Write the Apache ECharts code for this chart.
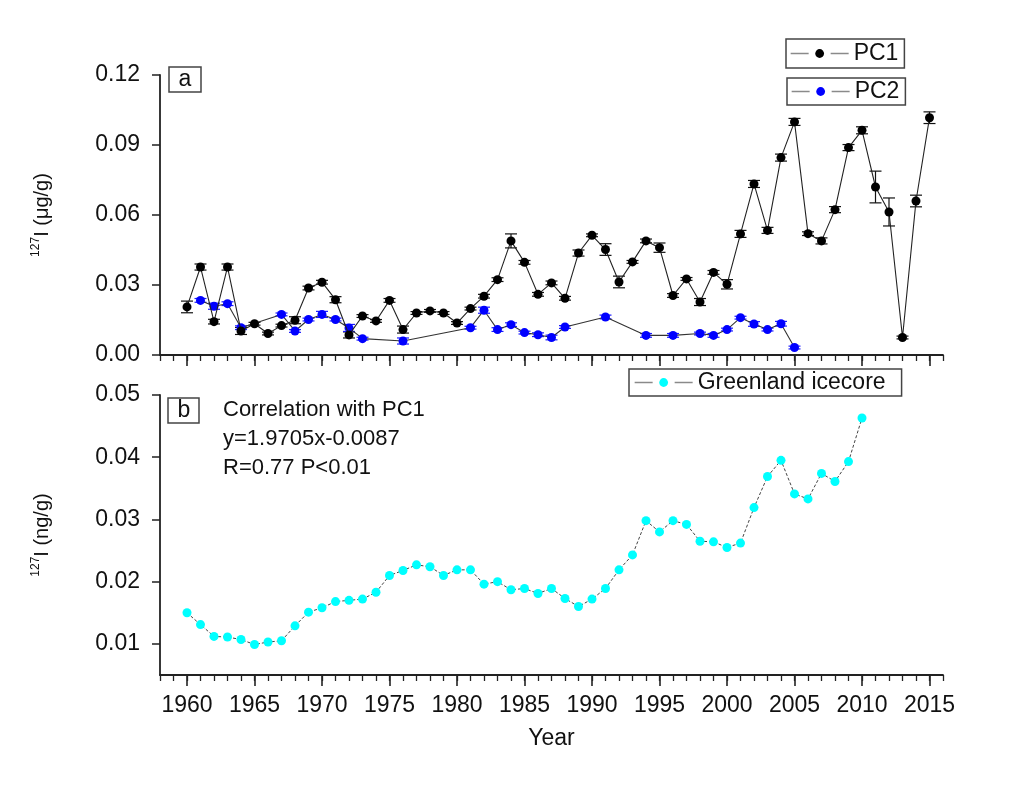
<!DOCTYPE html>
<html>
<head>
<meta charset="utf-8">
<script src="https://cdn.jsdelivr.net/npm/echarts@6/dist/echarts.min.js"></script>
<style>
html,body{margin:0;padding:0;background:#fff;}
#chart{width:1034px;height:792px;}
</style>
</head>
<body>
<div id="chart"></div>
<script>
// ---------- data ----------
const pc1Years = [1960,1961,1962,1963,1964,1965,1966,1967,1968,1969,
  1970,1971,1972,1973,1974,1975,1976,1977,1978,1979,
  1980,1981,1982,1983,1984,1985,1986,1987,1988,1989,
  1990,1991,1992,1993,1994,1995,1996,1997,1998,1999,
  2000,2001,2002,2003,2004,2005,2006,2007,2008,2009,
  2010,2011,2012,2013,2014,2015];
const pc1Values = [0.0206,0.0377,0.0143,0.0377,0.0103,0.0134,0.0092,0.0126,0.0149,0.0287,
  0.0312,0.0237,0.0086,0.0167,0.0146,0.0234,0.0109,0.0180,0.0189,0.0180,
  0.0137,0.0199,0.0252,0.0323,0.0489,0.0397,0.0260,0.0309,0.0243,0.0437,
  0.0513,0.0452,0.0313,0.0399,0.0489,0.0460,0.0255,0.0326,0.0227,0.0354,
  0.0303,0.0519,0.0733,0.0534,0.0846,0.0999,0.0520,0.0489,0.0623,0.0889,
  0.0963,0.0720,0.0613,0.0075,0.0660,0.1017];
const pc1Errors = [0.0025,0.0013,0.0010,0.0013,0.0015,0.0006,0.0006,0.0006,0.0015,0.0008,
  0.0008,0.0013,0.0013,0.0006,0.0006,0.0008,0.0015,0.0006,0.0006,0.0006,
  0.0006,0.0006,0.0008,0.0008,0.0030,0.0008,0.0008,0.0008,0.0008,0.0013,
  0.0006,0.0025,0.0025,0.0006,0.0008,0.0020,0.0008,0.0006,0.0015,0.0008,
  0.0020,0.0015,0.0015,0.0013,0.0015,0.0015,0.0008,0.0013,0.0013,0.0013,
  0.0015,0.0068,0.0060,0.0006,0.0025,0.0025];

const pc2Years = [1961,1962,1963,1964,1967,1968,1969,1970,1971,1972,1973,1976,
  1981,1982,1983,1984,1985,1986,1987,1988,1991,1994,1996,1998,1999,
  2000,2001,2002,2003,2004,2005];
const pc2Values = [0.0234,0.0209,0.0220,0.0117,0.0174,0.0103,0.0152,0.0174,0.0152,0.0116,0.0070,0.0060,
  0.0117,0.0192,0.0109,0.0130,0.0096,0.0087,0.0075,0.0120,0.0163,0.0084,0.0084,0.0092,0.0084,
  0.0109,0.0160,0.0133,0.0109,0.0134,0.0032];
const pc2Errors = [0.0008,0.0013,0.0008,0.0008,0.0006,0.0006,0.0006,0.0013,0.0006,0.0015,0.0006,0.0013,
  0.0006,0.0013,0.0008,0.0008,0.0006,0.0008,0.0010,0.0006,0.0008,0.0008,0.0008,0.0006,0.0008,
  0.0006,0.0006,0.0010,0.0006,0.0010,0.0006];

const iceYears = [1960,1961,1962,1963,1964,1965,1966,1967,1968,1969,
  1970,1971,1972,1973,1974,1975,1976,1977,1978,1979,
  1980,1981,1982,1983,1984,1985,1986,1987,1988,1989,
  1990,1991,1992,1993,1994,1995,1996,1997,1998,1999,
  2000,2001,2002,2003,2004,2005,2006,2007,2008,2009,2010];
const iceValues = [0.0150,0.0131,0.0112,0.0111,0.0107,0.0099,0.0103,0.0105,0.0129,0.0151,
  0.0158,0.0168,0.0170,0.0172,0.0183,0.0210,0.0218,0.0227,0.0224,0.0210,
  0.0219,0.0219,0.0196,0.0200,0.0187,0.0189,0.0181,0.0189,0.0173,0.0160,
  0.0172,0.0189,0.0219,0.0243,0.0298,0.0280,0.0298,0.0292,0.0265,0.0264,
  0.0255,0.0262,0.0319,0.0369,0.0395,0.0341,0.0333,0.0374,0.0361,0.0393,0.0463];

const majorYearTicks = [1960,1965,1970,1975,1980,1985,1990,1995,2000,2005,2010,2015];
const topYTicks = [0, 0.03, 0.06, 0.09, 0.12];
const bottomYTicks = [0.01, 0.02, 0.03, 0.04, 0.05];

// ---------- helpers ----------
const FONT = 'Liberation Sans, Arial, sans-serif';
const pairs = (xs, ys) => xs.map((x, i) => [x, ys[i]]);
const triples = (xs, ys, es) => xs.map((x, i) => [x, ys[i], es[i]]);

function errRenderer(color) {
  return function (params, api) {
    const x = api.value(0), v = api.value(1), e = api.value(2);
    const hi = api.coord([x, v + e]);
    const lo = api.coord([x, v - e]);
    const w = 6;
    const style = { stroke: color, lineWidth: 1.2 };
    return {
      type: 'group',
      children: [
        { type: 'line', shape: { x1: hi[0], y1: hi[1], x2: lo[0], y2: lo[1] }, style },
        { type: 'line', shape: { x1: hi[0] - w, y1: hi[1], x2: hi[0] + w, y2: hi[1] }, style },
        { type: 'line', shape: { x1: lo[0] - w, y1: lo[1], x2: lo[0] + w, y2: lo[1] }, style }
      ]
    };
  };
}

const axisColor = '#222';
function majorX(grid, showLabels) {
  return {
    type: 'value', gridIndex: grid, position: 'bottom', min: 1958, max: 2016,
    axisLine: { show: true, lineStyle: { color: axisColor, width: 1.8 } },
    axisTick: { show: true, length: 11, inside: false, customValues: majorYearTicks,
      lineStyle: { color: axisColor, width: 1.6 } },
    axisLabel: { show: showLabels, customValues: majorYearTicks, margin: 19,
      fontSize: 23, fontFamily: FONT, color: '#111', formatter: v => String(v) },
    splitLine: { show: false },
    name: showLabels ? 'Year' : '', nameLocation: 'middle', nameGap: 52,
    nameTextStyle: { fontSize: 23, fontFamily: FONT, color: '#111' }
  };
}
function minorX(grid) {
  return {
    type: 'value', gridIndex: grid, position: 'bottom', min: 1958, max: 2016, interval: 1,
    axisLine: { show: false },
    axisTick: { show: true, length: 6, lineStyle: { color: axisColor, width: 1.3 } },
    axisLabel: { show: false }, splitLine: { show: false }
  };
}

const legendBase = {
  orient: 'horizontal', selectedMode: false, itemWidth: 58, itemHeight: 11,
  borderColor: '#444', borderWidth: 1.5, borderRadius: 0,
  textStyle: { fontSize: 23, fontFamily: FONT, color: '#111' },
  lineStyle: { color: '#8a8a8a', width: 1.3, type: [18, 22] }
};

const option = {
  animation: false,
  backgroundColor: '#ffffff',
  grid: [
    { left: 160, top: 75, width: 783, height: 280 },
    { left: 160, top: 395, width: 783, height: 280 }
  ],
  xAxis: [majorX(0, false), minorX(0), majorX(1, true), minorX(1)],
  yAxis: [
    {
      type: 'value', gridIndex: 0, min: 0, max: 0.12, interval: 0.03,
      axisLine: { show: true, lineStyle: { color: axisColor, width: 1.8 } },
      axisTick: { show: true, length: 8, lineStyle: { color: axisColor, width: 1.5 } },
      axisLabel: { margin: 20, fontSize: 23, fontFamily: FONT, color: '#111', formatter: v => v.toFixed(2) },
      splitLine: { show: false },
      name: '{s|127}{m|I (μg/g)}', nameLocation: 'middle', nameRotate: 90, nameGap: 106,
      nameTextStyle: { color: '#111', fontFamily: FONT,
        rich: { s: { fontSize: 12, lineHeight: 12, verticalAlign: 'top', fontFamily: FONT, color: '#111' },
                m: { fontSize: 20, lineHeight: 24, fontFamily: FONT, color: '#111' } } }
    },
    {
      type: 'value', gridIndex: 1, min: 0.005, max: 0.05,
      axisLine: { show: true, lineStyle: { color: axisColor, width: 1.8 } },
      axisTick: { show: true, length: 8, customValues: bottomYTicks, lineStyle: { color: axisColor, width: 1.5 } },
      axisLabel: { margin: 20, fontSize: 23, fontFamily: FONT, color: '#111', customValues: bottomYTicks,
        formatter: v => v.toFixed(2) },
      splitLine: { show: false },
      name: '{s|127}{m|I (ng/g)}', nameLocation: 'middle', nameRotate: 90, nameGap: 106,
      nameTextStyle: { color: '#111', fontFamily: FONT,
        rich: { s: { fontSize: 12, lineHeight: 12, verticalAlign: 'top', fontFamily: FONT, color: '#111' },
                m: { fontSize: 20, lineHeight: 24, fontFamily: FONT, color: '#111' } } }
    }
  ],
  legend: [
    Object.assign({}, legendBase, { data: ['PC1'], left: 786, top: 39, padding: [3, 6, 3, 4],
      itemStyle: { color: '#000' } }),
    Object.assign({}, legendBase, { data: ['PC2'], left: 787, top: 78, padding: [2, 6, 2, 4],
      itemStyle: { color: '#0000ff' } }),
    Object.assign({}, legendBase, { data: ['Greenland icecore'], left: 629, top: 369, padding: [2, 16, 2, 5],
      itemStyle: { color: '#00ffff' } })
  ],
  graphic: [
    { type: 'rect', shape: { x: 169, y: 67, width: 32, height: 25 }, style: { fill: '#fff', stroke: '#444', lineWidth: 1.5 }, z: 10 },
    { type: 'text', x: 185, y: 80, style: { text: 'a', fontSize: 23, fontFamily: FONT, fill: '#111', align: 'center', verticalAlign: 'middle' }, z: 11 },
    { type: 'rect', shape: { x: 168, y: 398, width: 31, height: 25 }, style: { fill: '#fff', stroke: '#444', lineWidth: 1.5 }, z: 10 },
    { type: 'text', x: 184, y: 411, style: { text: 'b', fontSize: 23, fontFamily: FONT, fill: '#111', align: 'center', verticalAlign: 'middle' }, z: 11 },
    { type: 'text', x: 223, y: 395, style: { text: 'Correlation with PC1\ny=1.9705x-0.0087\nR=0.77 P<0.01',
      fontSize: 22, lineHeight: 29, fontFamily: FONT, fill: '#111', align: 'left', verticalAlign: 'top' }, z: 11 }
  ],
  series: [
    { type: 'custom', name: 'PC1 err', xAxisIndex: 0, yAxisIndex: 0, renderItem: errRenderer('#111'),
      data: triples(pc1Years, pc1Values, pc1Errors), z: 2, silent: true },
    { type: 'custom', name: 'PC2 err', xAxisIndex: 0, yAxisIndex: 0, renderItem: errRenderer('#1a1aff'),
      data: triples(pc2Years, pc2Values, pc2Errors), z: 2, silent: true },
    { type: 'line', name: 'PC2', xAxisIndex: 0, yAxisIndex: 0, data: pairs(pc2Years, pc2Values),
      symbol: 'circle', symbolSize: 9, showAllSymbol: true,
      itemStyle: { color: '#0000ff' }, lineStyle: { color: '#333', width: 1.1 }, z: 3 },
    { type: 'line', name: 'PC1', xAxisIndex: 0, yAxisIndex: 0, data: pairs(pc1Years, pc1Values),
      symbol: 'circle', symbolSize: 9, showAllSymbol: true,
      itemStyle: { color: '#000' }, lineStyle: { color: '#222', width: 1.1 }, z: 4 },
    { type: 'line', name: 'Greenland icecore', xAxisIndex: 2, yAxisIndex: 1, data: pairs(iceYears, iceValues),
      symbol: 'circle', symbolSize: 9, showAllSymbol: true,
      itemStyle: { color: '#00ffff' }, lineStyle: { color: '#444', width: 1, type: [3, 2] }, z: 4 }
  ]
};

const chart = echarts.init(document.getElementById('chart'), null, { renderer: 'canvas' });
chart.setOption(option);
</script>
</body>
</html>
